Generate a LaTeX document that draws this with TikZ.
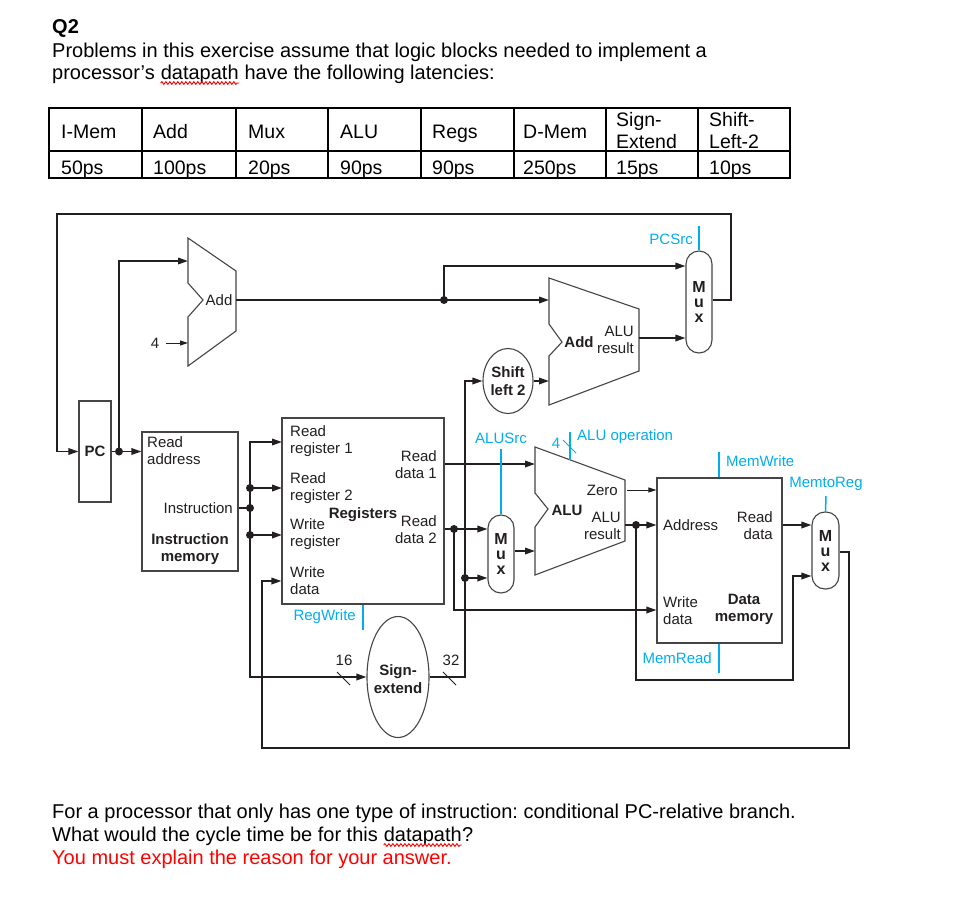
\documentclass[tikz,border=0pt]{standalone}
\usepackage{fontspec}
\setmainfont{Liberation Sans}
\usetikzlibrary{arrows.meta,shapes.geometric,decorations.pathmorphing}
\definecolor{wire}{RGB}{35,31,32}
\definecolor{boxc}{RGB}{70,68,68}
\definecolor{ctrl}{RGB}{0,174,239}
\definecolor{redtxt}{RGB}{255,0,0}
\frenchspacing
\tikzset{
  wire/.style={draw=wire, line width=1.7pt},
  arr/.style={wire, -{Triangle[length=10pt,width=6.5pt]}},
  dblarr/.style={wire, {Triangle[length=10pt,width=6.5pt]}-{Triangle[length=10pt,width=6.5pt]}},
  thinarr/.style={draw=wire, line width=1pt, -{Triangle[length=8pt,width=5pt]}},
  ctl/.style={draw=ctrl, line width=1.5pt},
  blk/.style={draw=boxc, line width=1.1pt, inner sep=0pt},
  muxbox/.style={blk, rounded corners=13pt, minimum width=26pt, align=center, font=\bfseries\fontsize{16}{15}\selectfont, text=wire},
  jdot/.style={circle, fill=wire, inner sep=0pt, minimum size=8pt},
  t/.style={font=\fontsize{15}{17}\selectfont, inner sep=0pt, align=left, text=wire},
  tb/.style={t, font=\bfseries\fontsize{15}{17}\selectfont},
  tc/.style={t, text=ctrl},
  hdr/.style={font=\fontsize{20}{24}\selectfont, inner sep=0pt, anchor=base west},
  tbl/.style={font=\fontsize{19.5}{22}\selectfont, inner sep=0pt, anchor=base west},
  tline/.style={draw=black, line width=2pt},
  squig/.style={draw=redtxt, line width=0.9pt, decorate, decoration={snake, amplitude=1.4pt, segment length=4pt}},
}
\begin{document}
\begin{tikzpicture}[x=1pt,y=-1pt]
\useasboundingbox[fill=white] (0,0) rectangle (956,921);

% ---------- header ----------
\node[hdr, font=\bfseries\fontsize{20}{24}\selectfont] (q2) at (52,33) {Q2};
\node[hdr] (p1) at (52,57) {Problems in this exercise assume that logic blocks needed to implement a};
\node[hdr] (p2a) at (52,79) {processor’s\ \null};
\node[hdr] (p2b) at (p2a.base east) {datapath};
\node[hdr] (p2c) at (p2b.base east) {\null\ have the following latencies:};
\draw[squig] ([yshift=-4pt]p2b.base west) -- ([yshift=-4pt]p2b.base east);

% ---------- table ----------
\draw[tline] (49,108) rectangle (790,178);
\draw[tline] (49,151) -- (790,151);
\foreach \cx in {142,236,328,421,514,606,698} \draw[tline] (\cx,108) -- (\cx,178);
\node[tbl] (h1) at (61,138) {I-Mem};
\node[tbl] (h2) at (153,138) {Add};
\node[tbl] (h3) at (248,138) {Mux};
\node[tbl] (h4) at (340,138) {ALU};
\node[tbl] (h5) at (432,138) {Regs};
\node[tbl] (h6) at (523,138) {D-Mem};
\node[tbl] (h7a) at (616,126) {Sign-};
\node[tbl] (h7b) at (616,148) {Extend};
\node[tbl] (h8a) at (709,126) {Shift-};
\node[tbl] (h8b) at (709,148) {Left-2};
\node[tbl] (v1) at (61,174) {50ps};
\node[tbl] (v2) at (153,174) {100ps};
\node[tbl] (v3) at (248,174) {20ps};
\node[tbl] (v4) at (340,174) {90ps};
\node[tbl] (v5) at (432,174) {90ps};
\node[tbl] (v6) at (523,174) {250ps};
\node[tbl] (v7) at (616,174) {15ps};
\node[tbl] (v8) at (709,174) {10ps};

% ---------- blocks ----------
\node[blk, minimum width=32pt, minimum height=101pt, font=\bfseries\fontsize{15}{17}\selectfont, text=wire] (pc) at (95,451.5) {PC};
\node[blk, minimum width=96pt, minimum height=139pt] (im) at (190,501.5) {};
\node[t, anchor=west] (imra) at (147,451) {Read\\address};
\node[t, anchor=east] (imins) at (233,508) {Instruction};
\node[tb, align=center] (imname) at (190,549.5) {Instruction\\memory};

\node[blk, minimum width=162pt, minimum height=186pt] (regs) at (363,511) {};
\node[t, anchor=west] (rr1) at (290,441.5) {Read\\register 1};
\node[t, anchor=west] (rr2) at (290,488.5) {Read\\register 2};
\node[t, anchor=west] (wreg) at (290,534.5) {Write\\register};
\node[t, anchor=west] (wdat) at (290,581) {Write\\data};
\node[tb] (regname) at (363,515) {Registers};
\node[t, anchor=east, align=right] (rd1) at (437,464.5) {Read\\data 1};
\node[t, anchor=east, align=right] (rd2) at (437,529.5) {Read\\data 2};

\node[blk, minimum width=125pt, minimum height=165pt] (dm) at (719.5,560.5) {};
\node[t, anchor=west] (dmaddr) at (663,525) {Address};
\node[t, anchor=east, align=right] (dmrd) at (773,525.5) {Read\\data};
\node[t, anchor=west] (dmwd) at (663,610.5) {Write\\data};
\node[tb, align=center] (dmname) at (744,609) {Data\\memory};

\node[blk, ellipse, minimum width=50pt, minimum height=65pt] (sl2) at (508,381) {};
\node[tb, align=center, font=\bfseries\fontsize{15}{18}\selectfont] (sl2t) at (508,381) {Shift\\left 2};
\node[blk, ellipse, minimum width=62pt, minimum height=121pt] (se) at (398,677) {};
\node[tb, align=center, font=\bfseries\fontsize{15}{18}\selectfont] (set) at (398,679) {Sign-\\extend};

\node[muxbox, minimum height=102pt] (mux1) at (699,302) {M\\u\\x};
\node[muxbox, minimum height=78pt] (mux2) at (501,554) {M\\u\\x};
\node[muxbox, minimum height=77pt, minimum width=27pt] (mux3) at (825.5,550.5) {M\\u\\x};

% adders and ALU
\draw[blk, line join=miter] (188,238) -- (236,271) -- (236,331) -- (188,366) -- (188,317) -- (203,300) -- (188,283) -- cycle;
\node[t] (addlbl) at (219,300) {Add};
\draw[blk, line join=miter] (549,278) -- (639,309) -- (639,371) -- (549,405) -- (549,356) -- (562,342) -- (549,324) -- cycle;
\node[tb] (add2lbl) at (579,342) {Add};
\node[t, anchor=east, align=right] (add2res) at (634,339.5) {ALU\\result};
\draw[blk, line join=miter] (535,447) -- (625,480) -- (625,541) -- (535,575) -- (535,527) -- (548,509) -- (535,493) -- cycle;
\node[tb] (alulbl) at (567,510) {ALU};
\node[t, anchor=east] (zero) at (618,490) {Zero};
\node[t, anchor=east, align=right] (alures) at (621,525.5) {ALU\\result};

% ---------- wires ----------
\coordinate (j1) at (119,451.5);
\draw[arr] (pc.east) -- (pc.east -| im.west);
\draw[arr] (j1) |- (188,261);
\node[jdot] (d1) at (j1) {};
\node[t] (four) at (155,343) {4};
\draw[thinarr] (166,343) -- (188,343);

\coordinate (j2) at (444,300);
\draw[arr] (236,300) -- (549,300);
\draw[arr] (j2) |- (mux1.west |- 0,266);
\node[jdot] (d2) at (j2) {};
\draw[arr] (639,338) -- (mux1.west |- 0,338);
\draw[arr] (mux1.east |- 0,300) -- (731,300) -- (731,214) -- (57,214) -- (57,451.5) -- (pc.west);

% instruction bus
\draw[wire] (im.east |- 0,508) -- (250,508);
\draw[dblarr] (282,442) -- (250,442) -- (250,677) -- (se.west);
\foreach \yy/\nm in {488/d3,535/d5} {
  \draw[arr] (250,\yy) -- (282,\yy);
  \node[jdot] (\nm) at (250,\yy) {};
}
\node[jdot] (d4) at (250,508) {};
\draw[wire, line width=1pt] (337,672) -- (350,685);
\node[t] (l16) at (344,660) {16};

% sign extend output
\draw[arr] (se.east) -- (465,677) -- (465,381) -- (sl2.west);
\draw[wire, line width=1pt] (443,672) -- (456,685);
\node[t] (l32) at (451,660) {32};
\coordinate (j6) at (465,578);
\draw[arr] (j6) -- (mux2.west |- j6);
\node[jdot] (d6) at (j6) {};
\draw[arr] (sl2.east) -- (549,381);

% register outputs
\draw[arr] (regs.east |- 0,464) -- (535,464);
\coordinate (j7) at (454,529);
\draw[arr] (regs.east |- j7) -- (mux2.west |- j7);
\draw[arr] (j7) |- (dm.west |- 0,610);
\node[jdot] (d7) at (j7) {};
\draw[arr] (mux2.east |- 0,551) -- (535,551);

% ALU outputs
\draw[thinarr] (627,490) -- (dm.west |- 0,490);
\coordinate (j8) at (636,525);
\draw[arr] (625,525) -- (dm.west |- j8);
\draw[arr] (j8) -- (636,680) -- (793,680) -- (793,576) -- (mux3.west |- 0,576);
\node[jdot] (d8) at (j8) {};
\draw[arr] (dm.east |- 0,525) -- (mux3.west |- 0,525);
\draw[arr] (mux3.east |- 0,552) -- (849,552) -- (849,748) -- (262,748) -- (262,581) -- (regs.west |- 0,581);

% ---------- control ----------
\node[tc, anchor=east] (pcsrc) at (693,239) {PCSrc};
\draw[ctl] (699,226) -- (mux1.north);
\node[tc] (alusrc) at (501,438) {ALUSrc};
\draw[ctl] (501,449) -- (mux2.north);
\node[tc] (four2) at (556,443) {4};
\node[tc, anchor=west] (aluop) at (577,437) {ALU operation};
\draw[ctl] (570,432) -- (570,460);
\draw[ctl, line width=1pt] (563,440) -- (576,453);
\node[tc, anchor=west] (memw) at (726,461) {MemWrite};
\draw[ctl] (719,452) -- (dm.north -| 719,0);
\node[tc] (m2r) at (826,484) {MemtoReg};
\draw[ctl] (826,496) -- (mux3.north);
\node[tc, anchor=east] (memr) at (712,658) {MemRead};
\draw[ctl] (dm.south -| 719,0) -- (719,673);
\node[tc, anchor=east] (regw) at (356,617) {RegWrite};
\draw[ctl] (regs.south -| 363,0) -- (363,630);

% ---------- bottom text ----------
\node[hdr] (b1) at (52,818) {For a processor that only has one type of instruction: conditional PC-relative branch.};
\node[hdr] (b2a) at (52,841) {What would the cycle time be for this\ \null};
\node[hdr] (b2b) at (b2a.base east) {datapath};
\node[hdr] (b2c) at (b2b.base east) {?};
\draw[squig] ([yshift=-4pt]b2b.base west) -- ([yshift=-4pt]b2b.base east);
\node[hdr, text=redtxt] (b3) at (52,864) {You must explain the reason for your answer.};
\end{tikzpicture}
\end{document}
